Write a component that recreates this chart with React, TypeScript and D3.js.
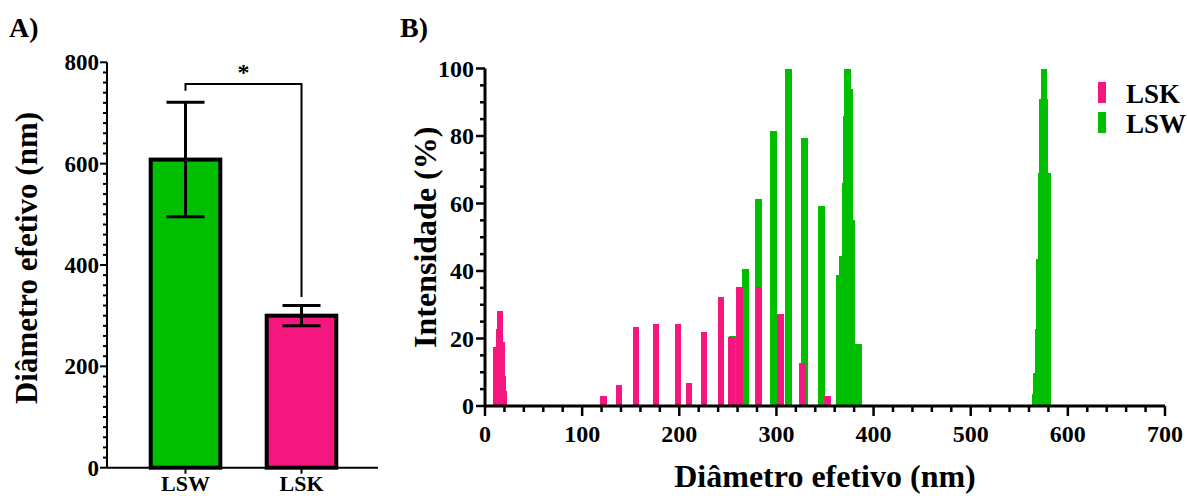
import React from 'react';
import * as d3 from 'd3';

// A) diâmetro médio por grupo
const groups = ['LSW', 'LSK'];
const meanDiameter = [608, 300];
const sdDiameter = [113, 20];
const groupColors = ['#00be00', '#f51680'];
const diameterTicks = [0, 200, 400, 600, 800];
// colchete de significância: nível, ponta esquerda, ponta direita
const bracket = [757, 744, 337];

// B) distribuição de tamanho (DLS)
const lskSize = [12, 14.4, 15.4, 17.2, 18.2, 19.6, 121.8, 137.9, 155.4, 176, 198.7, 210, 225.4, 242.9, 254, 262.2, 282.1, 304.4, 327.1, 352.4];
const lskIntensity = [17.5, 22.7, 28.2, 19, 9, 4.3, 2.9, 6.1, 23.5, 24.2, 24.2, 6.9, 21.9, 32.2, 20.3, 35.3, 35.3, 27.4, 12.6, 2.9];
const lswSize = [254.5, 268, 281.8, 296.8, 312.6, 328.7, 346.6, 364.7, 368.2, 370.6, 371.6, 373.4, 375.8, 377.5, 384.3, 566.9, 567.9, 569.7, 570.7, 572.3, 574.1, 575.5, 576.5, 579];
const lswIntensity = [20.7, 40.7, 61.2, 81.6, 100, 79.5, 59.4, 38.8, 44.3, 66, 86, 100, 94, 55, 18.5, 3.6, 9.8, 22.7, 43.5, 69, 91, 100, 91, 69];
const sizeTicks = [0, 100, 200, 300, 400, 500, 600, 700];
const intensityTicks = [0, 20, 40, 60, 80, 100];

const FONT = '"Liberation Serif", "Times New Roman", serif';

export default function App() {
  // painel A
  const xA = d3.scaleBand().domain(groups).range([127.5, 359.5]).paddingInner(0.4).paddingOuter(0.2);
  const yA = d3.scaleLinear().domain([0, 800]).range([467.7, 62.3]);
  const axA = 107;

  // painel B
  const xB = d3.scaleLinear().domain([0, 700]).range([485, 1165]);
  const yB = d3.scaleLinear().domain([0, 100]).range([406, 68.5]);
  const barW = xB(6.8) - xB(0);

  const lsw = lswSize.map((s, i) => ({ s, v: lswIntensity[i] }));
  const lsk = lskSize.map((s, i) => ({ s, v: lskIntensity[i] }));

  return (
    <svg width={1187} height={496} style={{ position: 'absolute', left: 0, top: 0, background: '#fff' }} fontFamily={FONT} fontWeight="bold">
      {/* ---------- A ---------- */}
      <text x={9} y={37} fontSize={28}>A)</text>

      {groups.map((g, i) => {
        const cx = xA(g)! + xA.bandwidth() / 2;
        return (
          <g key={g}>
            <rect x={xA(g)} y={yA(meanDiameter[i])} width={xA.bandwidth()} height={yA(0) - yA(meanDiameter[i])}
              fill={groupColors[i]} stroke="#000" strokeWidth={4} />
            <line x1={cx} x2={cx} y1={yA(meanDiameter[i] + sdDiameter[i])} y2={yA(meanDiameter[i] - sdDiameter[i])} stroke="#000" strokeWidth={3} />
            <line x1={cx - 19} x2={cx + 19} y1={yA(meanDiameter[i] + sdDiameter[i])} y2={yA(meanDiameter[i] + sdDiameter[i])} stroke="#000" strokeWidth={3} />
            <line x1={cx - 19} x2={cx + 19} y1={yA(meanDiameter[i] - sdDiameter[i])} y2={yA(meanDiameter[i] - sdDiameter[i])} stroke="#000" strokeWidth={3} />
          </g>
        );
      })}

      {/* colchete + asterisco */}
      {(() => {
        const x1 = xA(groups[0])! + xA.bandwidth() / 2;
        const x2 = xA(groups[1])! + xA.bandwidth() / 2;
        return (
          <g>
            <path d={`M${x1},${yA(bracket[1])}V${yA(bracket[0])}H${x2}V${yA(bracket[2])}`} fill="none" stroke="#000" strokeWidth={2} />
            <text x={(x1 + x2) / 2} y={yA(bracket[0]) - 4} fontSize={24} textAnchor="middle">*</text>
          </g>
        );
      })()}

      {/* eixos A */}
      <line x1={axA} x2={axA} y1={yA(800)} y2={yA(0)} stroke="#000" strokeWidth={2} />
      <line x1={axA} x2={378} y1={yA(0)} y2={yA(0)} stroke="#000" strokeWidth={2} />
      {d3.range(0, 801, 20).map(t => (
        <line key={t} x1={t % 200 === 0 ? axA - 7 : axA - 4} x2={axA} y1={yA(t)} y2={yA(t)} stroke="#000" strokeWidth={2} />
      ))}
      {diameterTicks.map(t => (
        <text key={t} x={axA - 8} y={yA(t)} dy="0.35em" fontSize={23} textAnchor="end">{t}</text>
      ))}
      {groups.map(g => {
        const cx = xA(g)! + xA.bandwidth() / 2;
        return (
          <g key={g}>
            <line x1={cx} x2={cx} y1={yA(0)} y2={yA(0) + 6} stroke="#000" strokeWidth={2} />
            <text x={cx} y={491} fontSize={22} textAnchor="middle">{g}</text>
          </g>
        );
      })}
      <text transform={`translate(37,${(yA(0) + yA(800)) / 2 - 7}) rotate(-90)`} fontSize={31} textAnchor="middle">Diâmetro efetivo (nm)</text>

      {/* ---------- B ---------- */}
      <text x={400} y={37} fontSize={28}>B)</text>

      <g shapeRendering="crispEdges">
        {lsw.map((d, i) => (
          <rect key={'w' + i} x={xB(d.s) - barW / 2} y={yB(d.v)} width={barW} height={yB(0) - yB(d.v)} fill={groupColors[0]} />
        ))}
        {lsk.map((d, i) => (
          <rect key={'k' + i} x={xB(d.s) - barW / 2} y={yB(d.v)} width={barW} height={yB(0) - yB(d.v)} fill={groupColors[1]} />
        ))}
      </g>

      {/* eixos B */}
      <line x1={xB(0)} x2={xB(0)} y1={yB(100)} y2={yB(0)} stroke="#000" strokeWidth={3} />
      <line x1={xB(0)} x2={xB(700)} y1={yB(0)} y2={yB(0)} stroke="#000" strokeWidth={3} />
      {d3.range(0, 101, 5).map(t => (
        <line key={t} x1={t % 20 === 0 ? xB(0) - 9 : xB(0) - 5} x2={xB(0)} y1={yB(t)} y2={yB(t)} stroke="#000" strokeWidth={2.5} />
      ))}
      {d3.range(0, 701, 20).map(t => (
        <line key={t} x1={xB(t)} x2={xB(t)} y1={yB(0)} y2={t % 100 === 0 ? yB(0) + 10 : yB(0) + 6} stroke="#000" strokeWidth={2.5} />
      ))}
      {intensityTicks.map(t => (
        <text key={t} x={xB(0) - 11} y={yB(t)} dy="0.35em" fontSize={24} textAnchor="end">{t}</text>
      ))}
      {sizeTicks.map(t => (
        <text key={t} x={xB(t)} y={442} fontSize={24} textAnchor="middle">{t}</text>
      ))}
      <text x={(xB(0) + xB(700)) / 2} y={487} fontSize={32} textAnchor="middle">Diâmetro efetivo (nm)</text>
      <text transform={`translate(436,${(yB(0) + yB(100)) / 2}) rotate(-90)`} fontSize={32} textAnchor="middle">Intensidade (%)</text>

      {/* legenda */}
      {['LSK', 'LSW'].map((g, i) => (
        <g key={g}>
          <rect x={1098} y={82 + i * 30} width={8} height={21} fill={i === 0 ? groupColors[1] : groupColors[0]} />
          <text x={1126} y={103 + i * 30} fontSize={27}>{g}</text>
        </g>
      ))}
    </svg>
  );
}
